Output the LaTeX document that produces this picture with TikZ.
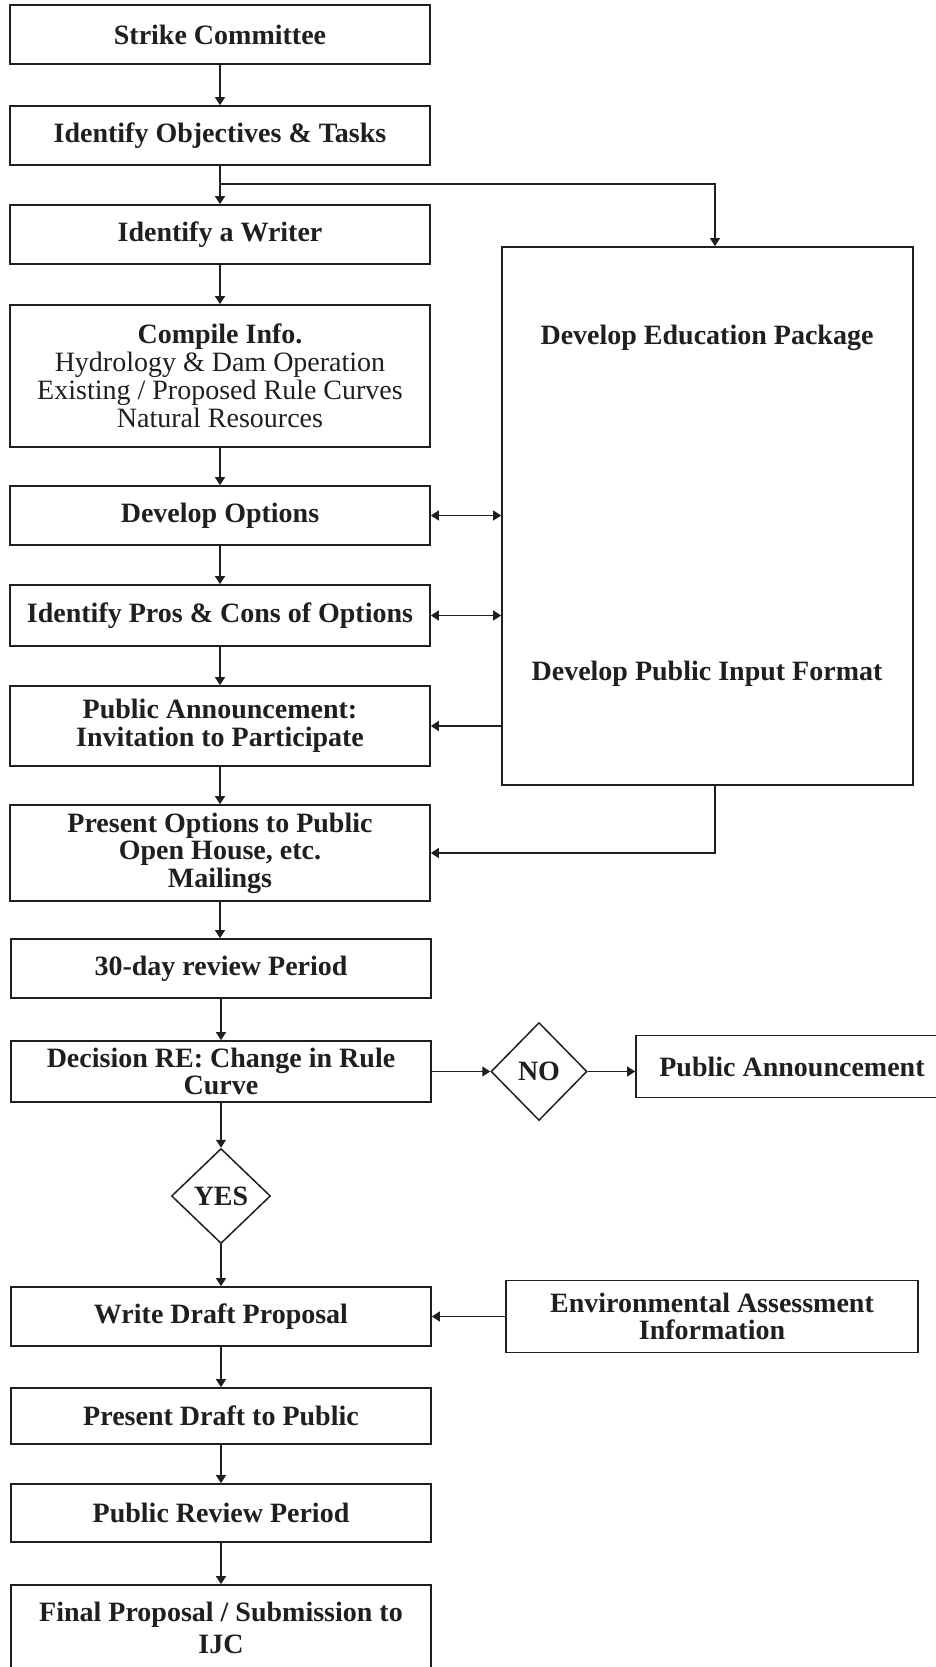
\documentclass[tikz,border=0pt]{standalone}
\usepackage{fontspec}
\setmainfont{Liberation Serif}
\usetikzlibrary{arrows.meta,shapes.geometric}
\definecolor{ink}{gray}{0.12}
\begin{document}
\begin{tikzpicture}[x=1pt,y=-1pt,
  lbl/.style={font=\fontsize{28}{27.5}\selectfont\bfseries, text=ink, align=center},
  box/.style={lbl, draw=ink, line width=1.7pt, rectangle, minimum width=420pt, inner sep=2pt},
  dia/.style={lbl, draw=ink, line width=1.5pt, diamond, inner sep=0pt},
  conn/.style={draw=ink, line width=1.2pt},
  arr/.style={conn, -{Triangle[length=8pt,width=10pt]}},
  darr/.style={conn, {Triangle[length=8pt,width=10pt]}-{Triangle[length=8pt,width=10pt]}}
]
\useasboundingbox (0,0) rectangle (935,1667);

% left column
\node[box, minimum height=59pt] (strike) at (220,34.5) {Strike Committee};
\node[box, minimum height=59pt] (obj) at (220,135.5) {Identify Objectives \& Tasks};
\node[box, minimum height=59pt] (writer) at (220,234.5) {Identify a Writer};
\node[box, minimum height=142pt] (compile) at (220,376) {Compile Info.\\[1pt]\mdseries Hydrology \& Dam Operation\\\mdseries Existing / Proposed Rule Curves\\[1pt]\mdseries Natural Resources};
\node[box, minimum height=59pt] (devopt) at (220,515.5) {Develop Options};
\node[box, minimum height=61pt] (pros) at (220,615.5) {Identify Pros \& Cons of Options};
\node[box, minimum height=80pt] (pubann) at (220,726) {Public Announcement:\\Invitation to Participate};
\node[box, minimum height=96pt] (present) at (220,853) {Present Options to Public\\Open House, etc.\\Mailings};
\node[box, minimum height=59pt] (review) at (221,968.5) {30-day review Period};
\node[box, minimum height=61pt] (decision) at (221,1071.5) {Decision RE: Change in Rule\\Curve};
\node[dia, minimum width=99pt, minimum height=95pt] (yes) at (221,1196) {YES};
\node[box, minimum height=59pt] (draft) at (221,1316.5) {Write Draft Proposal};
\node[box, minimum height=56pt] (presdraft) at (221,1416) {Present Draft to Public};
\node[box, minimum height=58pt] (pubreview) at (221,1513) {Public Review Period};
\node[box, minimum height=86pt] (final) at (221,1628) {Final Proposal / Submission to\\[5pt]IJC};

% right side
\node[draw=ink, line width=1.7pt, rectangle, minimum width=411pt, minimum height=538pt] (big) at (707.5,516) {};
\node[lbl] (edu) at (707,338) {Develop Education Package};
\node[lbl] (input) at (707,674) {Develop Public Input Format};
\node[dia, minimum width=96pt, minimum height=98pt] (no) at (539,1071.5) {NO};
\node[box, minimum width=312pt, minimum height=62pt] (pa) at (792,1066.5) {Public Announcement};
\node[box, minimum width=412pt, minimum height=72pt] (env) at (712,1316.5) {Environmental Assessment\\Information};

% main flow
\draw[arr] (strike) -- (obj);
\draw[arr] (obj) -- (writer);
\draw[arr] (writer) -- (compile);
\draw[arr] (compile) -- (devopt);
\draw[arr] (devopt) -- (pros);
\draw[arr] (pros) -- (pubann);
\draw[arr] (pubann) -- (present);
\draw[arr] (present.south) -- (present.south |- review.north);
\draw[arr] (review) -- (decision);
\draw[arr] (decision) -- (yes);
\draw[arr] (yes) -- (draft);
\draw[arr] (draft) -- (presdraft);
\draw[arr] (presdraft) -- (pubreview);
\draw[arr] (pubreview) -- (final);

% branch to big box
\coordinate (br) at (220,184);
\coordinate (brr) at (715,184);
\draw[arr] (br) -- (brr) -- (brr |- big.north);
\draw[arr] (brr |- big.south) -- (brr |- present.east) -- (present.east);

\draw[darr] (devopt.east) -- (devopt.east -| big.west);
\draw[darr] (pros.east) -- (pros.east -| big.west);
\draw[arr] (pubann.east -| big.west) -- (pubann.east);

\draw[arr] (decision.east) -- (no.west);
\draw[arr] (no.east) -- (no.east -| pa.west);
\draw[arr] (env.west) -- (draft.east);
\end{tikzpicture}
\end{document}
